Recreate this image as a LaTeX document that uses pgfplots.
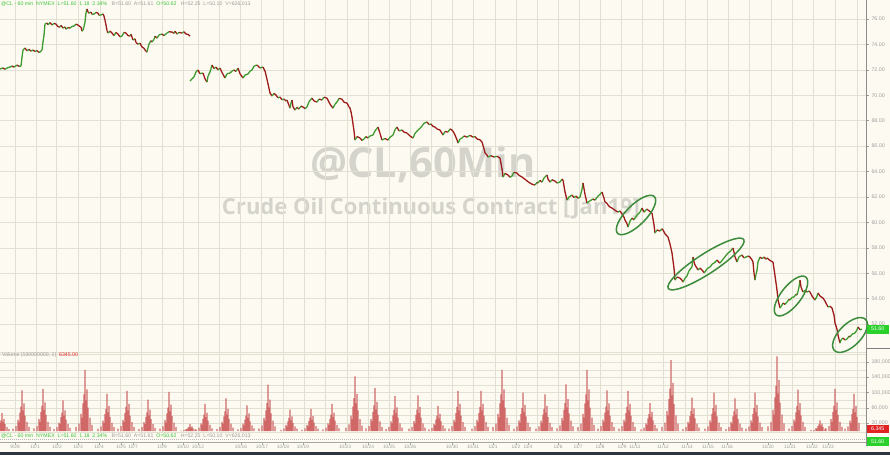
\documentclass[border=0pt]{standalone}
\usepackage{graphicx}
\usepackage{pgfplots}
\pgfplotsset{compat=1.18}
\usepackage{fontspec}
\setmainfont{Liberation Sans}
\newfontfamily\wmfont{Open Sans}
\definecolor{bg}{HTML}{FDFBF1}
\definecolor{gridc}{HTML}{E2DFD3}
\definecolor{upg}{HTML}{3E9A2E}
\definecolor{dnr}{HTML}{9E1B1B}
\definecolor{volr}{HTML}{D06868}
\definecolor{lblg}{HTML}{9C9C9C}
\definecolor{hdrg}{HTML}{3CC23C}
\definecolor{ell}{HTML}{3C8C3C}
\definecolor{wm}{HTML}{D4D4CD}
\definecolor{boxg}{HTML}{2BD12B}
\definecolor{boxr}{HTML}{E02424}
\definecolor{darkbar}{HTML}{2E3440}

\pgfplotstableread{
x p c
0 72.07 1
3 72.15 0
5 72.05 1
7 72.15 1
10 72.22 1
12 72.30 0
14 72.22 1
17 72.38 0
19 72.28 1
21 72.30 1
22 73.00 1
23 73.56 1
25 73.72 0
27 73.50 1
29 73.62 0
31 73.48 1
33 73.56 0
35 73.45 1
37 73.52 0
39 73.38 1
40 73.40 1
42 73.56 1
43 74.20 1
44 74.74 1
45 75.61 1
47 75.69 0
48 75.55 1
50 75.72 0
52 75.53 1
54 75.66 0
56 75.61 0
58 75.40 0
60 75.37 1
61 75.50 0
63 75.29 1
65 75.38 0
66 75.21 1
68 75.33 0
70 75.29 1
72 75.42 1
74 75.45 1
76 75.60 0
78 75.53 0
80 75.40 0
81 75.37 0
82 75.05 1
83 75.13 1
84 75.40 1
85 75.76 1
86 76.50 1
87 76.79 0
88 76.55 0
89 76.47 1
91 76.55 0
92 76.38 1
94 76.39 1
96 76.52 0
98 76.47 0
99 76.30 1
101 76.32 1
103 76.40 0
104 76.24 0
105 75.90 0
106 75.53 0
107 75.10 0
108 74.90 1
110 75.05 0
112 74.90 0
114 74.70 1
116 74.95 0
118 74.82 0
120 74.60 1
122 74.66 1
124 74.95 0
126 74.90 0
128 74.70 0
130 74.66 1
131 74.80 0
133 74.35 1
135 74.45 0
136 74.15 0
138 74.03 1
140 74.10 0
142 73.80 0
144 73.70 0
145 73.56 0
147 73.40 1
148 73.75 1
149 74.03 1
151 74.30 0
152 74.19 1
154 74.40 1
155 74.65 0
157 74.50 1
159 74.75 1
162 74.82 0
164 74.70 1
167 74.90 1
169 75.00 0
172 74.98 0
174 74.88 1
175 75.05 0
177 74.82 1
179 74.95 0
182 74.90 1
184 75.00 0
186 74.82 0
188 74.80 0
190 74.66 0
}\priceA

\pgfplotstableread{
x p c
190 71.12 1
192 71.30 1
194 71.44 1
196 71.85 1
198 71.99 0
200 71.70 1
203 71.75 0
205 71.30 0
207 71.04 1
208 71.50 1
210 71.83 1
211 72.10 1
212 72.38 0
214 72.10 1
216 72.22 0
218 72.00 1
220 72.14 0
222 71.80 0
225 71.36 1
227 71.70 1
230 71.75 1
232 71.90 1
234 71.99 0
236 71.88 1
238 72.14 0
240 71.70 0
243 71.36 1
245 71.60 1
248 71.67 1
250 71.90 1
252 71.99 1
254 72.30 1
257 72.38 0
260 72.15 1
263 72.22 0
265 71.90 0
266 71.60 0
268 70.90 0
270 70.18 0
272 69.94 1
274 70.15 0
276 70.02 0
278 69.80 1
280 69.86 0
282 69.65 1
284 69.70 0
286 69.55 1
287 69.63 0
289 69.20 0
290 68.99 1
291 69.40 1
292 69.63 0
293 69.10 0
295 68.84 1
297 69.05 0
299 68.92 1
301 69.15 0
303 69.08 0
305 68.95 1
307 69.08 1
309 69.50 1
312 69.78 0
314 69.55 0
317 69.47 1
319 69.70 0
322 69.63 1
324 69.85 0
327 69.78 0
330 69.30 0
333 68.99 1
335 69.30 1
337 69.47 1
339 69.75 0
342 69.70 0
344 69.45 0
347 69.39 0
349 69.10 0
350 68.99 0
351 68.70 0
352 68.29 0
354 67.20 0
355 66.48 1
357 66.75 0
360 66.64 0
362 66.45 1
364 66.56 1
366 66.75 0
368 66.64 1
370 66.80 1
373 66.87 1
375 67.20 1
378 67.50 0
380 67.00 0
382 66.48 1
385 66.60 0
388 66.48 1
390 66.70 1
393 66.87 1
395 67.30 1
397 67.50 0
399 67.20 1
402 67.27 0
404 67.10 0
407 67.03 0
410 66.80 0
413 66.64 1
415 67.00 1
418 67.27 1
420 67.40 1
422 67.58 1
424 67.80 1
427 67.90 0
429 67.70 1
431 67.74 0
433 67.55 0
435 67.50 0
437 67.35 0
440 67.27 0
442 67.00 0
443 66.87 1
445 67.15 0
448 67.11 1
450 67.35 0
452 67.27 0
454 67.05 0
455 66.87 0
457 66.50 0
458 66.24 1
460 66.55 1
462 66.64 1
464 66.80 0
467 66.71 1
470 66.85 0
473 66.71 1
475 66.75 0
477 66.56 0
480 66.50 0
482 66.32 0
484 65.80 0
485 65.46 0
487 65.30 0
488 65.14 1
491 65.25 0
494 65.14 1
497 65.20 0
500 65.06 0
502 64.20 0
503 63.57 1
505 63.85 0
508 63.73 0
510 63.55 1
512 63.65 1
514 63.95 0
517 63.88 0
519 63.70 0
522 63.57 0
524 63.45 0
526 63.33 0
528 63.20 0
530 63.10 0
532 63.00 0
535 62.94 1
537 63.15 0
538 63.10 1
540 63.30 0
542 63.17 1
544 63.50 1
547 63.73 0
548 63.40 0
550 63.17 1
552 63.35 0
555 63.25 0
557 63.10 1
560 63.17 1
562 63.40 0
563 63.33 0
565 62.40 0
567 61.76 1
569 62.00 1
572 62.15 0
574 61.95 1
576 62.07 0
578 61.90 1
580 61.99 1
582 62.60 1
583 63.10 0
585 62.20 0
587 61.52 1
590 61.70 1
593 61.84 0
595 61.75 1
598 62.07 1
600 62.20 1
602 62.39 0
604 61.90 0
605 61.60 0
607 61.50 0
608 61.36 0
610 61.20 0
612 61.13 0
615 60.95 0
618 60.81 1
620 60.90 0
622 60.66 0
624 60.40 0
625 60.18 0
627 59.90 0
628 59.63 1
630 60.10 1
632 60.34 0
634 60.20 1
637 60.58 1
640 60.80 1
642 61.13 0
644 60.80 1
645 60.89 1
647 61.05 0
648 60.97 0
650 60.85 0
652 60.73 0
654 59.80 0
655 59.16 1
657 59.40 0
660 59.32 1
662 59.50 0
663 59.40 0
665 59.10 0
668 58.85 0
670 58.30 0
672 57.59 0
674 56.40 0
675 55.46 1
677 55.70 0
680 55.62 0
682 55.45 0
683 55.30 1
685 55.60 1
687 55.78 1
689 56.20 1
692 56.49 1
693 57.27 0
694 56.90 0
695 56.64 0
697 56.40 0
698 56.25 1
700 56.40 0
702 56.25 0
704 56.05 1
705 56.09 1
707 56.35 1
710 56.49 1
712 56.70 1
714 56.80 1
716 56.95 1
717 57.04 0
719 56.85 0
720 56.80 1
722 57.00 1
724 57.20 1
726 57.40 1
728 57.59 1
730 57.70 1
733 57.98 0
735 57.30 0
737 56.88 1
739 57.30 1
742 57.43 0
744 57.20 1
746 57.27 1
748 57.35 0
750 57.27 0
752 57.05 0
753 56.88 0
754 56.00 0
755 55.46 1
756 55.90 1
757 56.25 1
758 56.90 1
760 57.27 0
762 57.15 1
764 57.27 0
766 57.10 1
767 57.20 0
770 57.00 0
773 56.88 0
775 55.80 0
777 54.67 0
778 53.90 0
780 53.26 1
782 53.50 1
783 53.65 0
785 53.55 1
787 53.73 1
789 53.95 0
790 53.89 1
792 54.10 1
794 54.13 1
796 54.35 0
797 54.28 1
799 54.90 1
800 55.46 0
801 54.90 0
803 54.52 1
805 54.65 0
807 54.52 1
809 54.60 0
810 54.52 0
812 54.20 0
815 53.89 1
817 54.20 1
818 54.44 0
820 54.20 0
823 54.05 0
825 53.80 0
828 53.34 1
830 53.40 0
832 53.26 0
834 52.70 0
835 52.08 0
837 51.60 0
838 51.13 0
839 50.80 0
840 50.50 1
841 50.75 1
843 50.90 0
845 50.75 1
847 50.82 1
849 51.05 0
850 50.98 1
852 51.20 1
855 51.29 1
857 51.55 1
858 51.76 0
860 51.55 1
862 51.60 0
}\priceB

\begin{document}
\begin{tikzpicture}[x=1pt,y=1pt]
\fill[bg] (0,0) rectangle (890,455);
\path[use as bounding box] (0,0) rectangle (890,455);
% watermark
\node[text=wm, inner sep=0] at (423,291) {\resizebox{225pt}{!}{\wmfont\bfseries @CL,60Min}};
\node[text=wm, inner sep=0] at (431,247) {\resizebox{418pt}{!}{\wmfont\bfseries Crude Oil Continuous Contract [Jan19]}};

% price panel
\begin{axis}[at={(0pt,103pt)}, anchor=south west, scale only axis,
  width=866pt, height=352pt,
  xmin=0, xmax=866, ymin=49.80, ymax=77.50,
  axis line style={draw=none},
  xtick={15,36,56,78,100,120,141,162,183,198,219,240,261,283,304,325,347,368,389,410,431,452,473,495,516,537,558,579,600,621,642,663,685,707,728,749,771,792,813,835,857},
  xticklabels={}, xtick style={draw=none},
  ytick={52,54,...,76}, yticklabel pos=right, ytick pos=right,
  tick align=outside, major tick length=3pt, ytick style={lblg, line width=0.5pt},
  grid=major, grid style={gridc, line width=0.5pt},
  yticklabel style={font=\fontsize{5.3}{6}\selectfont, text=lblg, xshift=-1pt,
    /pgf/number format/fixed, /pgf/number format/fixed zerofill,
    /pgf/number format/precision=2, /pgf/number format/assume math mode=true},
  colormap={ud}{color=(dnr) color=(upg)}, point meta min=0, point meta max=1,
]
\addplot[mesh, shader=flat corner, line width=1.3pt, point meta=explicit] table[x=x, y=p, meta=c] {\priceA};
\addplot[mesh, shader=flat corner, line width=1.3pt, point meta=explicit] table[x=x, y=p, meta=c] {\priceB};
\end{axis}

% volume panel
\begin{axis}[at={(0pt,23pt)}, anchor=south west, scale only axis,
  width=866pt, height=80pt,
  xmin=0, xmax=866, ymin=-2.614, ymax=206.5,
  axis line style={draw=none},
  xtick={15,36,56,78,100,120,141,162,183,198,219,240,261,283,304,325,347,368,389,410,431,452,473,495,516,537,558,579,600,621,642,663,685,707,728,749,771,792,813,835,857},
  xticklabels={}, xtick style={draw=none},
  ytick={20,60,100,140,180}, yticklabels={{20,000},{60,000},{100,000},{140,000},{180,000}},
  minor ytick={40,80,120,160,200},
  yticklabel pos=right, ytick pos=right,
  tick align=outside, major tick length=3pt, minor tick length=0pt, ytick style={lblg, line width=0.5pt},
  grid=both, grid style={gridc, line width=0.5pt}, minor grid style={gridc, line width=0.5pt},
  yticklabel style={font=\fontsize{5.3}{6}\selectfont, text=lblg, xshift=-1pt},
]
\addplot[ybar, bar width=1.3pt, fill=volr, draw=none] coordinates {
(0,21)(1,28)(2,47)(3,24)(4,32)(5,18)(7,10)(9,5)
(13,6)(16,13)(18,30)(19,23)(20,48)(21,64)(22,106)(23,53)(24,72)(25,40)(27,23)(29,11)
(34,7)(37,13)(39,31)(40,24)(41,50)(42,66)(43,110)(44,55)(45,75)(46,42)(48,24)(50,11)
(54,5)(57,10)(59,22)(60,18)(61,36)(62,48)(63,80)(64,40)(65,54)(66,30)(68,18)(70,8)
(76,10)(79,19)(81,45)(82,35)(83,72)(84,96)(85,160)(86,80)(87,109)(88,61)(90,35)(92,16)
(98,6)(101,12)(103,27)(104,21)(105,44)(106,58)(107,97)(108,49)(109,66)(110,37)(112,21)(114,10)
(118,6)(121,13)(123,29)(124,23)(125,47)(126,63)(127,105)(128,53)(129,71)(130,40)(132,23)(134,11)
(139,5)(142,10)(144,23)(145,18)(146,37)(147,49)(148,82)(149,41)(150,56)(151,31)(153,18)(155,8)
(160,6)(163,12)(165,29)(166,22)(167,46)(168,61)(169,102)(170,51)(171,69)(172,39)(174,22)(176,10)
(181,1)(184,2)(186,5)(187,4)(188,8)(189,11)(190,18)(191,9)(192,12)(193,7)(195,4)
(196,4)(199,9)(201,20)(202,16)(203,32)(204,43)(205,71)(206,36)(207,48)(208,27)(210,16)(212,7)
(217,5)(220,10)(222,24)(223,19)(224,38)(225,51)(226,85)(227,43)(228,58)(229,32)(231,19)(233,9)
(238,4)(241,8)(243,19)(244,15)(245,30)(246,40)(247,67)(248,34)(249,46)(250,25)(252,15)(254,7)
(259,7)(262,15)(264,34)(265,27)(266,54)(267,73)(268,121)(269,61)(270,82)(271,46)(273,27)(275,12)
(281,3)(284,7)(286,16)(287,12)(288,25)(289,34)(290,56)(291,28)(292,38)(293,21)(295,12)(297,6)
(302,3)(305,7)(307,16)(308,13)(309,26)(310,35)(311,58)(312,29)(313,39)(314,22)(316,13)(318,6)
(323,4)(326,9)(328,20)(329,16)(330,32)(331,43)(332,71)(333,36)(334,48)(335,27)(337,16)(339,7)
(346,9)(349,17)(351,40)(352,31)(353,64)(354,86)(355,143)(356,72)(357,97)(358,54)(360,31)(362,14)
(366,7)(369,13)(371,31)(372,25)(373,50)(374,67)(375,112)(376,56)(377,76)(378,43)(380,25)(382,11)
(386,5)(389,11)(391,25)(392,20)(393,41)(394,55)(395,91)(396,46)(397,62)(398,35)(400,20)(402,9)
(409,6)(412,11)(414,26)(415,20)(416,42)(417,56)(418,93)(419,47)(420,63)(421,35)(423,20)(425,9)
(429,4)(432,8)(434,18)(435,15)(436,30)(437,40)(438,66)(439,33)(440,45)(441,25)(443,15)(445,7)
(449,6)(452,13)(454,29)(455,23)(456,47)(457,63)(458,105)(459,53)(460,71)(461,40)(463,23)(465,11)
(472,6)(475,13)(477,29)(478,23)(479,47)(480,63)(481,105)(482,53)(483,71)(484,40)(486,23)(488,11)
(493,10)(496,19)(498,45)(499,35)(500,72)(501,96)(502,160)(503,80)(504,109)(505,61)(507,35)(509,16)
(514,6)(517,12)(519,28)(520,22)(521,45)(522,60)(523,100)(524,50)(525,68)(526,38)(528,22)(530,10)
(536,6)(539,12)(541,27)(542,21)(543,43)(544,58)(545,96)(546,48)(547,65)(548,36)(550,21)(552,10)
(557,7)(560,15)(562,34)(563,27)(564,55)(565,73)(566,122)(567,61)(568,83)(569,46)(571,27)(573,12)
(578,10)(581,19)(583,45)(584,35)(585,72)(586,96)(587,160)(588,80)(589,109)(590,61)(592,35)(594,16)
(598,6)(601,13)(603,30)(604,23)(605,48)(606,64)(607,106)(608,53)(609,72)(610,40)(612,23)(614,11)
(619,6)(622,13)(624,29)(625,23)(626,47)(627,63)(628,105)(629,53)(630,71)(631,40)(633,23)(635,11)
(641,4)(644,9)(646,20)(647,16)(648,33)(649,44)(650,73)(651,37)(652,50)(653,28)(655,16)(657,7)
(662,11)(665,22)(667,52)(668,41)(669,83)(670,111)(671,185)(672,93)(673,126)(674,70)(676,41)(678,19)
(683,5)(686,10)(688,24)(689,19)(690,39)(691,52)(692,87)(693,44)(694,59)(695,33)(697,19)(699,9)
(705,6)(708,12)(710,28)(711,22)(712,45)(713,60)(714,100)(715,50)(716,68)(717,38)(719,22)(721,10)
(726,5)(729,10)(731,24)(732,19)(733,38)(734,51)(735,85)(736,43)(737,58)(738,32)(740,19)(742,9)
(746,6)(749,12)(751,28)(752,22)(753,45)(754,60)(755,100)(756,50)(757,68)(758,38)(760,22)(762,10)
(768,12)(771,23)(773,55)(774,43)(775,88)(776,117)(777,195)(778,98)(779,133)(780,74)(782,43)(784,20)
(789,6)(792,13)(794,30)(795,24)(796,49)(797,65)(798,108)(799,54)(800,73)(801,41)(803,24)(805,11)
(811,2)(814,3)(816,8)(817,6)(818,13)(819,17)(820,28)(821,14)(822,19)(823,11)(825,6)
(826,7)(829,13)(831,31)(832,24)(833,50)(834,66)(835,110)(836,55)(837,75)(838,42)(840,24)(842,11)
(845,6)(848,12)(850,27)(851,21)(852,44)(853,58)(854,97)(855,49)(856,66)(857,37)(859,21)
};
\end{axis}

% panel lines
\draw[gridc, line width=0.6pt] (0,103) -- (866,103);
\draw[lblg!80!black, line width=0.6pt] (866,107) -- (890,107);
\draw[gridc, line width=0.6pt] (0,23) -- (866,23);
\draw[gray!55, line width=0.4pt, dash pattern=on 1pt off 1pt] (0,16) -- (866,16);
\draw[gray!70, line width=0.5pt] (0,12.5) -- (866,12.5);
\draw[lblg!90!black, line width=0.8pt] (866,9) -- (866,455);

% ellipses
\draw[ell, line width=1.5pt, rotate around={45:(636,240)}] (636,240) ellipse (26 and 10);
\draw[ell, line width=1.5pt, rotate around={33:(706,191)}] (706,191) ellipse (45 and 10);
\draw[ell, line width=1.5pt, rotate around={52:(791,159)}] (791,159) ellipse (24 and 10);
\draw[ell, line width=1.5pt, rotate around={45:(850,120)}] (850,120) ellipse (22 and 11);

% header and footer info
\node[anchor=west, inner sep=0, font=\fontsize{5.2}{6}\selectfont] at (1,451) {\textcolor{hdrg}{@CL - 60 min\ \ NYMEX\ \ L=51.60\ \ 1.18\ \ 2.34\%}\ \ \ \textcolor{lblg}{B=51.60\ \ A=51.61}\ \ \textcolor{hdrg}{O=50.62}\ \ \ \textcolor{lblg}{H=52.25\ \ L=50.10\ \ V=626,013}};
\node[anchor=west, inner sep=0, font=\fontsize{5.2}{6}\selectfont] at (1,19) {\textcolor{hdrg}{@CL - 60 min\ \ NYMEX\ \ L=51.60\ \ 1.18\ \ 2.34\%}\ \ \ \textcolor{lblg}{B=51.60\ \ A=51.61}\ \ \textcolor{hdrg}{O=50.62}\ \ \ \textcolor{lblg}{H=52.25\ \ L=50.10\ \ V=626,013}};
\node[anchor=west, inner sep=0, font=\fontsize{5.2}{6}\selectfont] at (2,100) {\textcolor{lblg}{Volume (100000000, 1)}\ \ \textcolor{boxr}{6345.00}};

% value boxes
\node[fill=boxg, text=white, anchor=west, inner sep=0.8pt, minimum height=9pt, minimum width=22pt, font=\fontsize{5.3}{6}\selectfont] at (866.5,126) {51.60};
\node[fill=boxr, text=white, anchor=west, inner sep=0.8pt, minimum height=8pt, minimum width=22pt, font=\fontsize{5.3}{6}\selectfont] at (866.5,26) {6,345};
\node[fill=boxg, text=white, anchor=west, inner sep=0.8pt, minimum height=9pt, minimum width=22pt, font=\fontsize{5.3}{6}\selectfont] at (866.5,13.5) {51.60};

% date axis
\foreach \xx/\lab in {15/9\slash28,35/10\slash1,57/10\slash2,78/10\slash3,99/10\slash4,121/10\slash5,133/10\slash7,162/10\slash9,183/10\slash10,198/10\slash12,241/10\slash16,262/10\slash17,283/10\slash18,303/10\slash19,345/10\slash23,368/10\slash24,389/10\slash25,410/10\slash26,452/10\slash30,473/10\slash31,493/11\slash1,516/11\slash2,528/11\slash4,558/11\slash6,578/11\slash7,600/11\slash8,622/11\slash9,635/11\slash11,663/11\slash12,687/11\slash14,708/11\slash15,727/11\slash16,768/11\slash20,790/11\slash21,812/11\slash22,828/11\slash23} {
  \draw[gray!70, line width=0.4pt] (\xx,12.5) -- (\xx,10.5);
  \node[font=\fontsize{4.8}{5}\selectfont, text=lblg, inner sep=0] at (\xx,7.8) {\lab};
}
\fill[darkbar] (0,0) rectangle (890,3.5);
\end{tikzpicture}
\end{document}
